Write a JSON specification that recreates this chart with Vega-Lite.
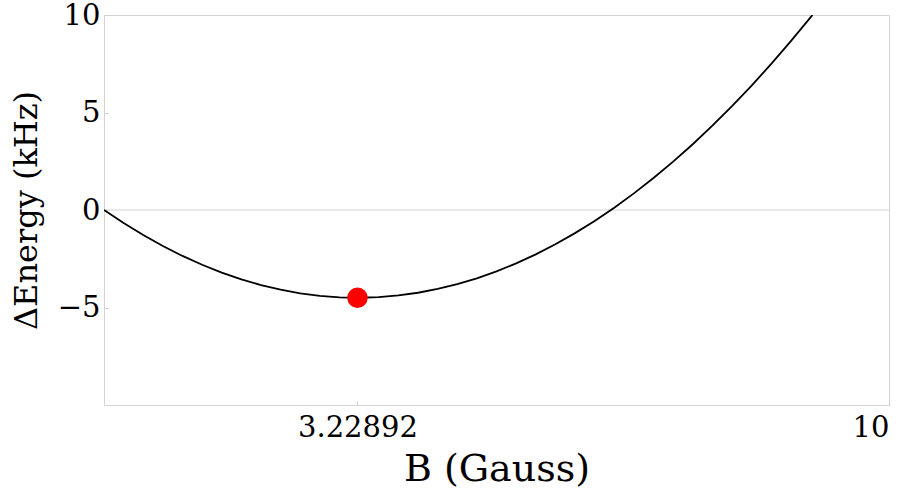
{
  "$schema": "https://vega.github.io/schema/vega-lite/v6.json",
  "autosize": "none",
  "width": 785,
  "height": 390,
  "padding": {"left": 104, "top": 15, "right": 19, "bottom": 85},
  "background": "white",
  "config": {
    "view": {"stroke": "#d4d4d4", "strokeWidth": 1},
    "axis": {
      "domain": false,
      "grid": false,
      "ticks": true,
      "tickColor": "#cfcfcf",
      "tickSize": -4,
      "labelFont": "DejaVu Serif",
      "titleFont": "DejaVu Serif",
      "labelColor": "black",
      "titleColor": "black",
      "titleFontWeight": "normal"
    }
  },
  "datasets": {
    "curve": [
      {"B": 0.0, "E": 0.0},
      {"B": 0.25, "E": -0.6698},
      {"B": 0.5, "E": -1.2857},
      {"B": 0.75, "E": -1.8477},
      {"B": 1.0, "E": -2.3557},
      {"B": 1.25, "E": -2.8097},
      {"B": 1.5, "E": -3.2098},
      {"B": 1.75, "E": -3.556},
      {"B": 2.0, "E": -3.8482},
      {"B": 2.25, "E": -4.0864},
      {"B": 2.5, "E": -4.2707},
      {"B": 2.75, "E": -4.401},
      {"B": 3.0, "E": -4.4774},
      {"B": 3.22892, "E": -4.5},
      {"B": 3.5, "E": -4.4683},
      {"B": 3.75, "E": -4.3828},
      {"B": 4.0, "E": -4.2434},
      {"B": 4.25, "E": -4.05},
      {"B": 4.5, "E": -3.8027},
      {"B": 4.75, "E": -3.5014},
      {"B": 5.0, "E": -3.1461},
      {"B": 5.25, "E": -2.7369},
      {"B": 5.5, "E": -2.2738},
      {"B": 5.75, "E": -1.7567},
      {"B": 6.0, "E": -1.1856},
      {"B": 6.25, "E": -0.5606},
      {"B": 6.5, "E": 0.1183},
      {"B": 6.75, "E": 0.8512},
      {"B": 7.0, "E": 1.6381},
      {"B": 7.25, "E": 2.4789},
      {"B": 7.5, "E": 3.3737},
      {"B": 7.75, "E": 4.3224},
      {"B": 8.0, "E": 5.3251},
      {"B": 8.25, "E": 6.3817},
      {"B": 8.5, "E": 7.4923},
      {"B": 8.75, "E": 8.6568},
      {"B": 9.0, "E": 9.8753},
      {"B": 9.025, "E": 10.0}
    ],
    "minimum": [{"B": 3.22892, "E": -4.5}],
    "zero": [{"E": 0}]
  },
  "layer": [
    {
      "data": {"name": "zero"},
      "mark": {"type": "rule", "color": "#d4d4d4", "strokeWidth": 1},
      "encoding": {"y": {"field": "E", "type": "quantitative", "scale": {"domain": [-10, 10]}}}
    },
    {
      "data": {"name": "curve"},
      "mark": {"type": "line", "color": "black", "strokeWidth": 1.8, "clip": true},
      "encoding": {
        "x": {
          "field": "B", "type": "quantitative",
          "scale": {"domain": [0, 10], "nice": false, "zero": false},
          "axis": {"values": [3.22892, 10], "labelExpr": "datum.value == 10 ? '10' : '3.22892'", "labelFontSize": 29, "labelPadding": 12, "title": "B (Gauss)", "titleFontSize": 38, "titlePadding": 8}
        },
        "y": {
          "field": "E", "type": "quantitative",
          "scale": {"domain": [-10, 10], "nice": false},
          "axis": {"values": [-5, 0, 5, 10], "format": "d", "labelFontSize": 29, "labelPadding": 8, "title": "ΔEnergy (kHz)", "titleFontSize": 32, "titlePadding": 14}
        }
      }
    },
    {
      "data": {"name": "minimum"},
      "mark": {"type": "point", "filled": true, "color": "#ff0000", "opacity": 1, "size": 420},
      "encoding": {
        "x": {"field": "B", "type": "quantitative"},
        "y": {"field": "E", "type": "quantitative"}
      }
    }
  ]
}
